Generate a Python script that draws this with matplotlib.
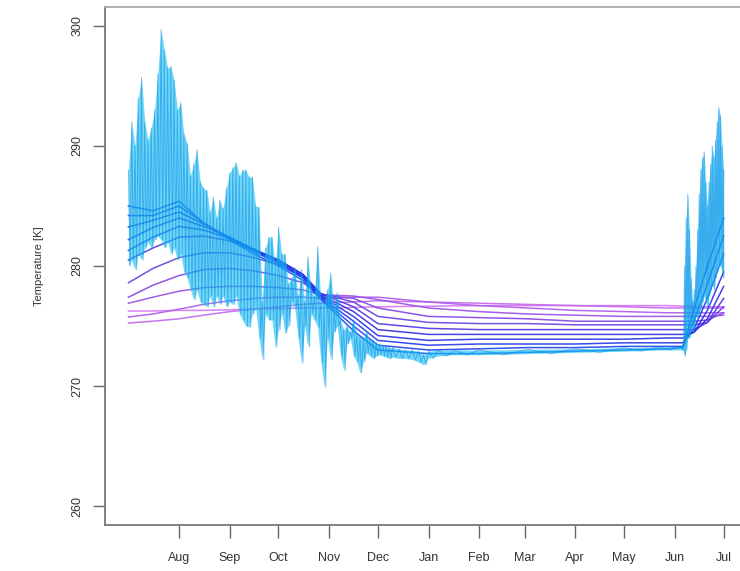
import matplotlib.pyplot as plt
import numpy as np
from matplotlib.colors import LinearSegmentedColormap

plt.rcParams['font.family'] = ['Liberation Sans', 'DejaVu Sans']

# time axis: days since 1 July
node_days = [0, 15, 31, 46, 62, 77, 92, 107, 118, 138, 153, 184, 215, 245, 274, 304, 330, 340, 347, 355, 365]

# soil layer temperatures [K] at node_days, shallow -> deep
soil_layers = [
    [285.0, 284.6, 285.4, 283.6, 282.2, 281.0, 280.0, 278.8, 277.2, 274.6, 273.0, 272.7, 272.7, 272.8, 272.9, 273.0, 273.1, 273.2, 276.5, 280.0, 284.0],
    [284.2, 284.2, 285.0, 283.6, 282.3, 281.2, 280.2, 279.0, 277.3, 275.0, 273.4, 273.0, 273.1, 273.2, 273.2, 273.3, 273.3, 273.3, 275.5, 278.5, 282.5],
    [283.25, 283.8, 284.5, 283.5, 282.4, 281.3, 280.3, 279.1, 277.4, 275.4, 273.8, 273.4, 273.5, 273.5, 273.5, 273.6, 273.6, 273.6, 274.8, 277.3, 281.0],
    [282.2, 283.2, 284.0, 283.3, 282.4, 281.4, 280.4, 279.2, 277.5, 275.8, 274.2, 273.8, 273.9, 273.9, 273.9, 273.9, 274.0, 274.0, 274.5, 276.3, 279.5],
    [281.3, 282.4, 283.3, 283.0, 282.3, 281.4, 280.5, 279.3, 277.6, 276.2, 274.7, 274.3, 274.3, 274.3, 274.3, 274.3, 274.3, 274.3, 274.5, 275.6, 278.3],
    [280.5, 281.5, 282.4, 282.5, 282.1, 281.3, 280.5, 279.3, 277.7, 276.6, 275.2, 274.8, 274.7, 274.7, 274.7, 274.7, 274.7, 274.7, 274.7, 275.3, 277.3],
    [278.6, 279.8, 280.7, 281.1, 281.1, 280.7, 280.1, 279.1, 277.7, 277.0, 275.8, 275.3, 275.2, 275.2, 275.1, 275.1, 275.1, 275.1, 275.1, 275.3, 276.6],
    [277.4, 278.4, 279.2, 279.7, 279.8, 279.6, 279.2, 278.6, 277.6, 277.3, 276.5, 275.8, 275.7, 275.6, 275.4, 275.4, 275.4, 275.4, 275.4, 275.5, 276.1],
    [276.9, 277.4, 277.9, 278.2, 278.3, 278.3, 278.2, 278.0, 277.6, 277.5, 277.2, 276.5, 276.2, 276.0, 275.9, 275.8, 275.8, 275.8, 275.8, 275.8, 275.9],
    [275.75, 276.0, 276.4, 276.8, 277.1, 277.3, 277.4, 277.4, 277.3, 277.4, 277.4, 277.0, 276.7, 276.5, 276.3, 276.2, 276.1, 276.1, 276.1, 276.1, 276.1],
    [275.25, 275.4, 275.6, 275.9, 276.2, 276.4, 276.6, 276.8, 276.9, 277.0, 277.1, 277.0, 276.9, 276.8, 276.7, 276.6, 276.5, 276.5, 276.5, 276.5, 276.5],
    [276.25, 276.25, 276.3, 276.3, 276.35, 276.4, 276.45, 276.5, 276.5, 276.55, 276.6, 276.65, 276.7, 276.7, 276.7, 276.7, 276.7, 276.65, 276.65, 276.6, 276.6],
]

# surface temperature, daily max / min
summer_days = list(range(0, 161, 2))
summer_hi = [288, 292, 290, 294, 295.7, 292, 290.5, 291.5, 293, 296, 299.7, 298, 296.5, 296.6, 295.5, 293, 293.6, 291, 290.2, 287.5, 288.5,
             289.7, 287, 286.5, 286.3, 284.5, 285.75, 284, 285.5, 284.8, 286.5, 287.75, 288.2, 288.6, 287.5, 288, 288, 287.4, 287.4, 285, 284.9,
             277, 281.5, 282.4, 282.4, 280, 283.25, 281, 281, 278.5, 279, 279.9, 277.5, 279.7, 277, 280.75, 278, 277.5, 281.6, 277, 276.9,
             278, 279.4, 276.5, 277.75, 275.5, 274.7, 275, 274.5, 275.5, 274.3, 274.1, 274, 274.5, 273.8, 273.8, 273.6, 273.5, 273.4, 273.3, 273.2]
summer_lo = [280, 280.5, 279.7, 281, 280.5, 281.5, 282, 281.5, 282.2, 282.5, 282.2, 281.5, 282, 281, 281.5, 280.5, 281, 279.5, 279, 278, 277.2,
             278, 277, 276.8, 276.6, 277.5, 276.6, 277.5, 276.8, 277.5, 276.6, 277, 276.8, 277.5, 276, 275.5, 275, 274.9, 276, 276.5, 274,
             272.2, 276, 275.5, 275.5, 273.25, 274.7, 276, 274.4, 275, 277, 276.5, 274, 271.9, 275, 273.25, 276, 275.5, 274.9, 272, 269.9,
             274, 272.2, 274.5, 275, 272.5, 271.3, 273.5, 274, 272.5, 272, 271.1, 272, 272.75, 272.5, 272.3, 272.5, 272.6, 272.5, 272.4, 272.3]

winter_days = [162, 166, 170, 174, 178, 181, 184, 190, 200, 215, 245, 274, 304, 325, 339]
winter_hi = [273.2, 273.1, 273.0, 273.0, 272.9, 272.6, 272.9, 273.0, 273.0, 273.0, 273.05, 273.1, 273.2, 273.25, 273.3]
winter_lo = [272.4, 272.3, 272.3, 272.2, 272.0, 271.75, 272.3, 272.5, 272.6, 272.6, 272.7, 272.8, 272.9, 273.0, 273.0]

june_days = list(range(340, 366))
june_hi = [273.5, 280, 284, 286, 283, 279, 277, 278, 280, 283, 286, 288, 289, 289.5, 287, 285, 287, 288.5, 290, 289,
           290.5, 292, 293.2, 292.5, 290, 288]
june_lo = [273.0, 272.5, 273, 274, 274, 275, 274.5, 275, 276, 275.5, 276, 276.5, 277, 277.5, 277, 276.5, 277.5, 278, 278.5, 278,
           279, 279.5, 280, 280, 279.5, 279]

month_ticks = [31, 62, 92, 123, 153, 184, 215, 243, 274, 304, 335, 365]
month_labels = ['Aug', 'Sep', 'Oct', 'Nov', 'Dec', 'Jan', 'Feb', 'Mar', 'Apr', 'May', 'Jun', 'Jul']

fig = plt.figure(figsize=(7.4, 5.71), dpi=100)
ax = fig.add_axes([0.1414, 0.0802, 0.8687, 0.9079])

layer_cmap = LinearSegmentedColormap.from_list('soil', ['#1448f2', '#2a2ae4', '#8a46e4', '#d672f2'])
n = len(soil_layers)
for i in range(n - 1, -1, -1):
    ax.plot(node_days, soil_layers[i], color=layer_cmap(i / (n - 1)), lw=1.1, alpha=0.9, zorder=2)

# surface layer: band between daily max and min, plus a zigzag through them
days = np.array(summer_days + winter_days + june_days, dtype=float)
hi = np.array(summer_hi + winter_hi + june_hi)
lo = np.array(summer_lo + winter_lo + june_lo)
ax.fill_between(days, lo, hi, color='#18c0f2', alpha=0.62, lw=0, zorder=3)
mid = np.append((days[:-1] + days[1:]) / 2, days[-1])
zx = np.empty(2 * len(days))
zy = np.empty(2 * len(days))
zx[0::2], zx[1::2] = days, mid
zy[0::2], zy[1::2] = hi, lo
ax.plot(zx, zy, color='#0a88e6', lw=0.7, alpha=0.55, zorder=4)

ax.set_xlim(-14.6, 379.6)
ax.set_ylim(258.4, 301.6)
ax.set_xticks(month_ticks)
ax.set_xticklabels(month_labels)
ax.set_yticks([260, 270, 280, 290, 300])
ax.set_yticklabels(['260', '270', '280', '290', '300'], rotation=90, va='center')
ax.tick_params(axis='both', direction='out', length=9, width=1, colors='#666666',
               labelcolor='#333333', labelsize=9)
ax.tick_params(axis='y', pad=6)
ax.tick_params(axis='x', pad=10)
for side in ['left', 'bottom', 'top', 'right']:
    ax.spines[side].set_color('#777777')
    ax.spines[side].set_linewidth(1.3)
ax.spines['top'].set_color('#aaaaaa')
ax.set_ylabel('Temperature [K]', fontsize=8, color='#333333', labelpad=20)

fig.savefig('out.png', dpi=100)
